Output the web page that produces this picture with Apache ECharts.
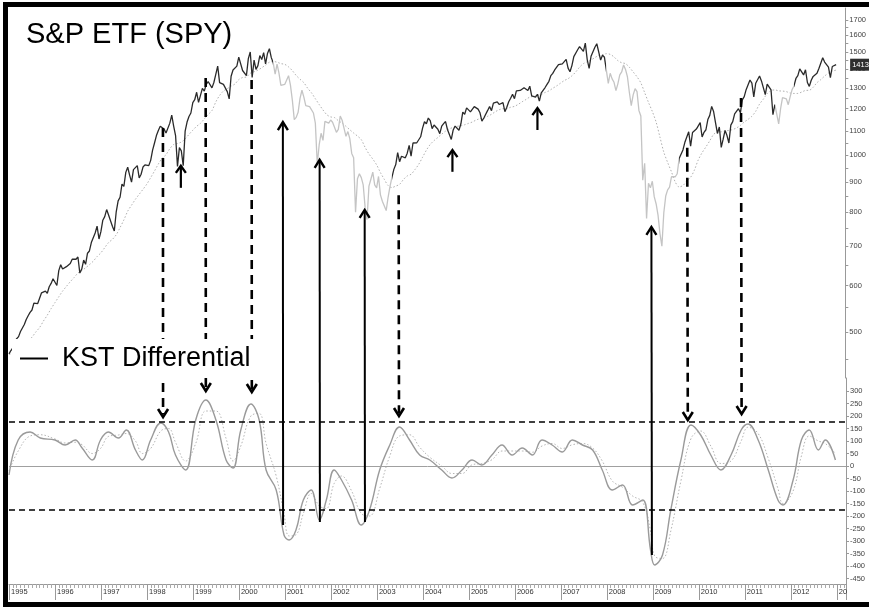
<!DOCTYPE html>
<html><head><meta charset="utf-8">
<script src="https://cdn.jsdelivr.net/npm/echarts@6/dist/echarts.min.js"></script>
<style>html,body{margin:0;padding:0;background:#fff}#c{width:869px;height:607px}</style>
</head><body><div id="c"></div>
<script>
// ---------- DATA ----------
const yearStart = 1995;
const yearEnd = 2013.2;
// S&P price, first point at 1995.0, then semi-monthly (mid-month, month-end)
const spyPrice = [459,
 465,470,482,487,491,501,508,515,525,533,540,545,560,562,559,562,583,584,587,582,597,605,616,616,
 600,636,651,640,641,646,645,654,665,669,665,671,630,640,663,652,681,687,710,705,737,757,720,741,
 775,786,808,791,790,757,743,801,836,848,893,885,935,954,925,900,945,947,960,915,928,955,963,970,
 960,980,1020,1049,1080,1102,1120,1112,1108,1091,1098,1134,1170,1121,1080,957,1030,1017,960,1099,1139,1164,1180,1229,
 1243,1280,1230,1238,1300,1286,1320,1335,1340,1302,1330,1373,1418,1329,1330,1320,1318,1283,1247,1363,1397,1389,1418,1469,
 1465,1394,1388,1366,1460,1499,1356,1452,1400,1421,1478,1455,1495,1431,1490,1518,1466,1437,1374,1429,1380,1315,1313,1320,
 1318,1366,1316,1240,1150,1160,1183,1250,1290,1256,1215,1224,1210,1211,1180,1134,966,1041,1090,1060,1142,1139,1134,1148,
 1138,1130,1094,1107,1166,1147,1111,1077,1097,1067,1007,990,800,912,930,916,890,815,777,886,910,936,890,880,
 920,856,835,841,805,848,885,917,946,964,1010,975,996,990,990,1008,1039,996,1049,1051,1050,1058,1075,1112,
 1140,1131,1157,1145,1110,1126,1130,1107,1088,1121,1132,1141,1106,1102,1064,1104,1121,1115,1103,1130,1184,1174,1204,1212,
 1185,1181,1210,1204,1198,1181,1143,1157,1154,1192,1210,1191,1227,1234,1233,1220,1228,1229,1186,1207,1233,1250,1270,1248,
 1287,1280,1289,1281,1303,1295,1289,1311,1262,1270,1256,1270,1236,1277,1285,1304,1320,1336,1366,1378,1397,1401,1427,1418,
 1431,1438,1456,1407,1387,1421,1472,1482,1512,1531,1533,1503,1552,1455,1406,1474,1477,1527,1548,1549,1452,1481,1468,1468,
 1325,1379,1349,1331,1288,1323,1370,1386,1425,1400,1360,1280,1215,1267,1298,1283,1192,1166,907,969,780,896,880,903,
 850,826,790,735,700,798,852,873,882,919,921,919,930,987,1004,1021,1052,1057,1096,1036,1093,1096,1108,1115,
 1136,1074,1094,1105,1150,1169,1211,1187,1136,1089,1117,1031,1065,1102,1080,1049,1125,1141,1176,1183,1200,1181,1242,1258,
 1293,1286,1343,1327,1257,1326,1320,1364,1338,1345,1268,1321,1316,1292,1172,1219,1216,1131,1200,1253,1257,1247,1219,1258,
 1293,1312,1351,1366,1403,1408,1370,1398,1330,1310,1342,1362,1357,1379,1405,1407,1465,1441,1432,1412,1355,1416,1413,1426];
// Long moving average (dotted), monthly from 1995.0
const priceMA = [458,
 460,464,468,476,483,490,500,509,522,534,548,561,
 574,587,598,609,619,630,636,643,651,660,672,682,
 696,710,719,732,753,776,803,822,841,858,875,893,
 916,940,966,988,1002,1026,1043,1047,1053,1066,1085,1103,
 1120,1133,1153,1173,1191,1232,1264,1286,1298,1311,1322,1345,
 1356,1359,1379,1387,1396,1409,1424,1440,1444,1440,1432,1428,
 1414,1393,1367,1347,1329,1300,1277,1248,1220,1194,1172,1162,
 1159,1145,1134,1120,1105,1091,1078,1063,1031,1005,985,963,
 934,910,888,881,886,892,909,922,928,945,965,992,
 1020,1043,1059,1072,1086,1099,1109,1115,1120,1122,1127,1133,
 1139,1148,1154,1156,1165,1174,1186,1195,1200,1200,1207,1211,
 1221,1233,1244,1256,1259,1264,1269,1279,1287,1300,1312,1326,
 1340,1350,1365,1386,1412,1432,1443,1453,1466,1479,1483,1489,
 1485,1470,1449,1437,1432,1412,1386,1360,1328,1278,1230,1187,
 1138,1073,1012,972,937,900,883,888,904,917,944,982,
 1010,1033,1058,1085,1095,1096,1100,1102,1106,1113,1124,1139,
 1151,1165,1188,1222,1246,1273,1288,1292,1287,1286,1283,1276,
 1274,1274,1281,1289,1290,1305,1329,1345,1364,1380,1390,1396];
const priceLastLabel = '1413.5';
// KST Differential
const kstTimes = [1995.00,1995.20,1995.46,1995.68,1996.00,1996.22,1996.44,1996.59,1996.81,1996.99,
 1997.16,1997.38,1997.55,1997.75,1997.90,1998.08,1998.30,1998.47,1998.62,1998.84,
 1999.06,1999.28,1999.50,1999.72,1999.87,2000.04,2000.26,2000.44,2000.59,2000.81,
 2000.98,2001.09,2001.24,2001.40,2001.57,2001.75,2001.90,2002.07,2002.23,2002.45,
 2002.66,2002.84,2003.06,2003.28,2003.49,2003.71,2003.93,2004.15,2004.41,2004.63,
 2004.85,2005.07,2005.28,2005.50,2005.72,2005.94,2006.16,2006.38,2006.59,2006.81,
 2007.03,2007.25,2007.47,2007.69,2007.90,2008.12,2008.34,2008.56,2008.78,2008.95,
 2009.04,2009.21,2009.39,2009.61,2009.83,2010.04,2010.26,2010.48,2010.70,2010.92,
 2011.07,2011.29,2011.51,2011.72,2011.83,2012.05,2012.23,2012.40,2012.60,2012.75,2012.97];
const kstValues = [-36,104,136,112,104,84,104,72,24,104,
 136,112,144,64,24,104,172,136,44,-16,
 184,264,184,24,-8,144,248,184,-16,-96,
 -276,-296,-256,-136,-96,-216,-136,-16,-56,-136,
 -236,-176,-16,84,156,104,44,24,-16,-48,
 -16,24,4,44,84,44,72,44,104,84,
 56,104,84,64,-16,-96,-76,-156,-136,-336,
 -396,-356,-176,24,164,124,44,-16,44,144,
 168,104,-16,-136,-156,-56,104,144,64,104,24];
const kstSignal = [-20,60,120,125,108,92,95,85,50,70,
 118,124,130,100,50,70,140,150,95,20,
 90,220,220,110,20,80,200,210,90,-40,
 -190,-280,-275,-190,-110,-160,-170,-70,-40,-100,
 -190,-200,-90,40,120,125,75,35,0,-30,
 -30,5,10,25,60,60,60,55,80,90,
 70,85,90,72,20,-60,-85,-120,-145,-260,
 -360,-370,-260,-60,110,140,80,10,20,100,
 155,130,30,-90,-150,-100,40,120,100,90,50];
const kstBands = [176, -176];
// tick labels
const priceTicks = [500,600,700,800,900,1000,1100,1200,1300,1400,1500,1600,1700];
const priceMinorTicks = [450,550,650,750,850,950,1050,1150,1250,1350,1450,1550,1650];
const kstTicks = [300,250,200,150,100,50,0,-50,-100,-150,-200,-250,-300,-350,-400,-450];
// annotations: [year, price at top, KST value at tip]
const dashedArrows = [[1998.35,1113,196],[1999.28,1354,300],[2000.28,1343,296],[2003.48,855,200],[2009.76,1030,184],[2010.93,1252,208]];
// [year, KST at base, price at tip]
const solidArrows = [[2000.96,-236,1139],[2001.76,-224,982],[2002.74,-224,807],[2008.98,-356,755]];
// [year, price base, price tip]
const smallArrows = [[1998.74,880,959],[2004.65,937,1020],[2006.50,1104,1203]];

// ---------- BUILD ----------
function priceTime(i){ if(i===0) return yearStart; const k=i-1; const y=yearStart+Math.floor(k/24); const m=Math.floor((k%24)/2); return y+(m+(k%2?1:0.5))/12; }
const priceData = spyPrice.map((v,i)=>[priceTime(i), v]);
const maData = priceMA.map((v,i)=>[yearStart+i/12, v]);
const kstData = kstTimes.map((t,i)=>[t, kstValues[i]]);
const sigData = kstTimes.map((t,i)=>[t, kstSignal[i]]);
// grey where the moving average is falling
const pieces=[]; let st=null;
for(let i=0;i<priceMA.length-1;i++){
  const falling = priceMA[i+1] < priceMA[i];
  if(falling && st===null) st = yearStart+i/12;
  if(!falling && st!==null){ pieces.push({gte:st, lt:yearStart+i/12, color:'#c4c4c4'}); st=null; }
}
if(st!==null) pieces.push({gte:st, lt:yearEnd, color:'#c4c4c4'});

const FONT = 'Liberation Sans, Arial, sans-serif';
const chart = echarts.init(document.getElementById('c'), null, {renderer:'canvas'});
const axisGrey = '#999';
chart.setOption({
  animation:false,
  backgroundColor:'#fff',
  title:{text:'S&P ETF (SPY)', left:21, top:15, textStyle:{fontFamily:FONT, fontSize:29, fontWeight:'normal', color:'#000'}},
  legend:{data:[{name:'KST Differential', itemStyle:{color:'#000'}, lineStyle:{color:'#000', width:2}}], left:12, top:339, padding:[6,12,6,8],
    backgroundColor:'#fff', itemWidth:28, itemHeight:2, icon:'rect', z:10,
    textStyle:{fontFamily:FONT, fontSize:27, color:'#000', padding:[0,0,0,9]}},
  grid:[{left:9, right:23, top:8, height:370}, {left:9, right:23, top:378, height:206}],
  xAxis:[
    {gridIndex:0, type:'value', min:yearStart, max:yearEnd, show:false},
    {gridIndex:1, type:'value', min:yearStart, max:yearEnd, interval:1, position:'bottom',
     axisLine:{onZero:false, lineStyle:{color:axisGrey}}, splitLine:{show:false},
     axisTick:{length:16, lineStyle:{color:axisGrey}},
     minorTick:{show:true, splitNumber:12, length:4, lineStyle:{color:'#aaa'}},
     axisLabel:{fontFamily:FONT, fontSize:7.5, color:'#333', align:'left', margin:4, padding:[0,0,0,2], showMaxLabel:false,
       formatter:v=> v===2013 ? '20' : String(v)}}
  ],
  yAxis:[
    {gridIndex:0, type:'log', logBase:10, min:417.5, max:1781, position:'right',
     axisLine:{show:true, lineStyle:{color:axisGrey}}, splitLine:{show:false}, minorTick:{show:false},
     axisTick:{show:true, length:3, lineStyle:{color:axisGrey}, customValues:priceTicks.concat(priceMinorTicks)},
     axisLabel:{fontFamily:FONT, fontSize:7.5, color:'#444', margin:4, customValues:priceTicks, formatter:v=>String(Math.round(v))}},
    {gridIndex:1, type:'value', min:-472, max:352, position:'right',
     axisLine:{show:true, lineStyle:{color:axisGrey}}, splitLine:{show:false},
     axisTick:{show:true, length:3, lineStyle:{color:axisGrey}, customValues:kstTicks},
     axisLabel:{fontFamily:FONT, fontSize:7.5, color:'#444', margin:4, customValues:kstTicks}}
  ],
  visualMap:[{type:'piecewise', show:false, seriesIndex:0, dimension:0, pieces:pieces, outOfRange:{color:'#2a2a2a'}}],
  series:[
    {name:'SPY', type:'line', xAxisIndex:0, yAxisIndex:0, data:priceData, showSymbol:false, symbol:'none', z:3,
     lineStyle:{width:1.3},
     endLabel:{show:true, formatter:()=>priceLastLabel, backgroundColor:'#2e2e2e', color:'#fff', fontSize:7.5, fontFamily:FONT, padding:[2,2], offset:[6,0]}},
    {name:'MA', type:'line', xAxisIndex:0, yAxisIndex:0, data:maData, showSymbol:false, symbol:'none', smooth:0.3, z:2,
     lineStyle:{width:1, type:[1.5,2], color:'#b0b0b0'}},
    {name:'KST Differential', type:'line', xAxisIndex:1, yAxisIndex:1, data:kstData, showSymbol:false, symbol:'none', smooth:0.4, z:3,
     color:'#9a9a9a', lineStyle:{width:1.4, color:'#9a9a9a'},
     markLine:{silent:true, symbol:'none', label:{show:false},
       data:[{yAxis:kstBands[0], lineStyle:{type:[6,4], color:'#000', width:1.5}},
             {yAxis:kstBands[1], lineStyle:{type:[6,4], color:'#000', width:1.5}},
             {yAxis:0, lineStyle:{type:'solid', color:'#a0a0a0', width:1}}]}},
    {name:'Signal', type:'line', xAxisIndex:1, yAxisIndex:1, data:sigData, showSymbol:false, symbol:'none', smooth:0.4, z:2,
     lineStyle:{width:1, type:[1.5,2], color:'#b5b5b5'}}
  ]
});

// annotations through the library's scales
const P = (t,v)=>chart.convertToPixel({xAxisIndex:0, yAxisIndex:0}, [t,v]);
const K = (t,v)=>chart.convertToPixel({xAxisIndex:1, yAxisIndex:1}, [t,v]);
const g=[];
const stroke=(pts,w,dash)=>g.push({type:'polyline', z:5, shape:{points:pts}, style:{stroke:'#000', lineWidth:w, fill:null, lineDash:dash||null}});
dashedArrows.forEach(a=>{
  const top=P(a[0],a[1]), tip=K(a[0],a[2]);
  stroke([[top[0],top[1]],[tip[0],tip[1]-3]],2.6,[9,6]);
  stroke([[tip[0]-5,tip[1]-8],[tip[0],tip[1]],[tip[0]+5,tip[1]-8]],2.6);
});
solidArrows.forEach(a=>{
  const base=K(a[0],a[1]), tip=P(a[0],a[2]);
  stroke([[base[0],base[1]],[tip[0],tip[1]+1]],2);
  stroke([[tip[0]-5,tip[1]+8],[tip[0],tip[1]],[tip[0]+5,tip[1]+8]],2.4);
});
smallArrows.forEach(a=>{
  const base=P(a[0],a[1]), tip=P(a[0],a[2]);
  stroke([[base[0],base[1]],[tip[0],tip[1]+1]],2.2);
  stroke([[tip[0]-5,tip[1]+7],[tip[0],tip[1]],[tip[0]+5,tip[1]+7]],2.4);
});
// frame
g.push({type:'rect', z:20, shape:{x:3,y:2,width:866,height:5}, style:{fill:'#000'}});
g.push({type:'rect', z:20, shape:{x:3,y:2,width:5,height:605}, style:{fill:'#000'}});
g.push({type:'rect', z:20, shape:{x:3,y:602,width:866,height:5}, style:{fill:'#000'}});
chart.setOption({graphic:g});
</script></body></html>
